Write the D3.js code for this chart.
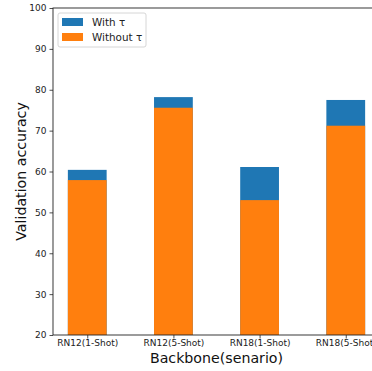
<!DOCTYPE html>
<html>
<head>
<meta charset="utf-8">
<script src="https://cdn.jsdelivr.net/npm/d3@7"></script>
<style>
  body { margin: 0; background: #fff; }
  svg { font-family: "DejaVu Sans", sans-serif; }
</style>
</head>
<body>
<svg id="chart" width="372" height="371"></svg>
<script>
// chart data
const categories = ['RN12(1-Shot)', 'RN12(5-Shot)', 'RN18(1-Shot)', 'RN18(5-Shot)'];
const withTau = [60.4, 78.2, 61.1, 77.5];
const withoutTau = [57.9, 75.6, 53.0, 71.2];
const yTicks = [20, 30, 40, 50, 60, 70, 80, 90, 100];

const svg = d3.select('#chart');
const margin = { top: 8, left: 53, bottom: 36 };
const plotRight = 380; // axes run past the window edge
const height = 371 - margin.top - margin.bottom;

const barW = 0.45;
const x = d3.scaleLinear()
  .domain([-0.3975, 3.3975])
  .range([margin.left, plotRight]);
const y = d3.scaleLinear().domain([20, 100]).range([margin.top + height, margin.top]);

const g = svg.append('g');

// bars: with tau behind, without tau in front
g.selectAll('.bar-with').data(withTau).enter().append('rect')
  .attr('x', (d, i) => x(i - barW / 2))
  .attr('width', x(barW) - x(0))
  .attr('y', d => y(d))
  .attr('height', d => y(20) - y(d))
  .attr('fill', '#1f77b4');

g.selectAll('.bar-without').data(withoutTau).enter().append('rect')
  .attr('x', (d, i) => x(i - barW / 2))
  .attr('width', x(barW) - x(0))
  .attr('y', d => y(d))
  .attr('height', d => y(20) - y(d))
  .attr('fill', '#ff7f0e');

// axes
const yAxis = d3.axisLeft(y).tickValues(yTicks).tickSize(3.5).tickPadding(3);
const yg = svg.append('g').attr('transform', `translate(${margin.left},0)`).call(yAxis);
const xAxis = d3.axisBottom(x).tickValues(d3.range(categories.length))
  .tickFormat(i => categories[i]).tickSize(3.5).tickPadding(1.3);
const xg = svg.append('g').attr('transform', `translate(0,${y(20)})`).call(xAxis);

[yg, xg].forEach(a => {
  a.select('.domain').remove();
  a.selectAll('line').attr('stroke', '#222').attr('stroke-width', 0.8);
  a.selectAll('text').attr('fill', '#222').style('font-size', '9px').style('font-family', '"DejaVu Sans", sans-serif');
});

// spines
svg.append('rect')
  .attr('x', margin.left).attr('y', margin.top)
  .attr('width', plotRight - margin.left).attr('height', height)
  .attr('fill', 'none').attr('stroke', '#222').attr('stroke-width', 0.9);

// labels
svg.append('text')
  .attr('x', (margin.left + plotRight) / 2).attr('y', 362.5)
  .attr('text-anchor', 'middle').style('font-size', '14.2px').attr('fill', '#111')
  .text('Backbone(senario)');

svg.append('text')
  .attr('transform', `translate(26,${margin.top + height / 2}) rotate(-90)`)
  .attr('text-anchor', 'middle').style('font-size', '14.2px').attr('fill', '#111')
  .text('Validation accuracy');

// legend
const legendItems = [
  { label: 'With τ', color: '#1f77b4' },
  { label: 'Without τ', color: '#ff7f0e' }
];
const lg = svg.append('g').attr('transform', `translate(58,13)`);
lg.append('rect').attr('width', 88).attr('height', 34).attr('rx', 2)
  .attr('fill', '#fff').attr('fill-opacity', 0.8).attr('stroke', '#ccc').attr('stroke-width', 0.8);
legendItems.forEach((it, i) => {
  lg.append('rect').attr('x', 4).attr('y', 5 + i * 15).attr('width', 21).attr('height', 8).attr('fill', it.color);
  lg.append('text').attr('x', 34).attr('y', 13 + i * 15)
    .style('font-size', '10.4px').attr('fill', '#222').text(it.label);
});
</script>
</body>
</html>
